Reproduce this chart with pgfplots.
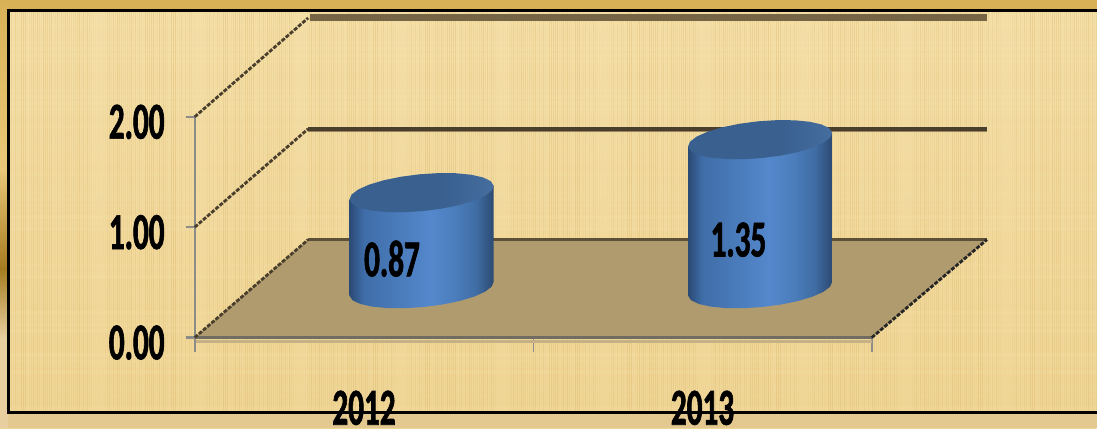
\documentclass[border=0pt]{standalone}
\usepackage{fontspec}
\setmainfont{Carlito}[FakeStretch=0.6,BoldFeatures={FakeBold=1.2}]
\usepackage{pgfplots}
\usepackage{pgfplotstable}
\pgfplotsset{compat=1.18}
\definecolor{wood}{HTML}{F0D595}
\definecolor{woodd}{HTML}{D9B467}
\definecolor{woodl}{HTML}{F7E6B4}
\definecolor{gridd}{HTML}{4A3F2C}
\definecolor{gridb}{HTML}{766545}
\definecolor{floorc}{HTML}{B09B6E}
\definecolor{axg}{HTML}{8C8C88}
\definecolor{c0}{HTML}{2B4A75}
\definecolor{c1}{HTML}{3F6DA8}
\definecolor{c2}{HTML}{5488CC}
\definecolor{c3}{HTML}{4B7DBB}
\definecolor{c4}{HTML}{3F6CA3}
\definecolor{c5}{HTML}{2C4A72}
\pgfdeclarehorizontalshading{cyl}{100bp}{
  color(0bp)=(c0); color(25bp)=(c0); color(30bp)=(c1); color(53bp)=(c2); color(62bp)=(c3); color(69bp)=(c4); color(75bp)=(c5); color(100bp)=(c5)}
\definecolor{t0}{HTML}{39608F}
\definecolor{t1}{HTML}{456D9E}
\pgfdeclarehorizontalshading{captop}{100bp}{
  color(0bp)=(t0); color(57bp)=(t0); color(75bp)=(t1); color(100bp)=(t1)}
\newcommand{\lab}{\fontsize{52}{52}\selectfont\bfseries}
% outline of a cylinder's end, as offsets from its centre
\pgfplotstableread{
dx dy
0.2129 0.0629
0.2043 0.1039
0.1818 0.1378
0.1468 0.1623
0.1020 0.1758
0.0501 0.1772
-0.0052 0.1666
-0.0601 0.1446
-0.1110 0.1128
-0.1542 0.0733
-0.1870 0.0288
-0.2069 -0.0177
-0.2129 -0.0629
-0.2043 -0.1039
-0.1818 -0.1378
-0.1468 -0.1623
-0.1020 -0.1758
-0.0501 -0.1772
0.0052 -0.1666
0.0601 -0.1446
0.1110 -0.1128
0.1542 -0.0733
0.1870 -0.0288
0.2069 0.0177
}\capoutline
\begin{document}
\begin{tikzpicture}[x=1pt,y=1pt]
% frame and textured ground
\fill[top color=woodl!60!wood,bottom color=wood] (0,0) rectangle (1098,429);
\fill[color={rgb,255:red,216;green,177;blue,87}] (0,419) rectangle (1098,429);
\fill[color={rgb,255:red,227;green,201;blue,143}] (0,0) rectangle (1098,16);
\shade[top color={rgb,255:red,216;green,177;blue,87},bottom color={rgb,255:red,234;green,200;blue,120}] (0,260) rectangle (8,429);
\shade[top color={rgb,255:red,234;green,200;blue,120},bottom color={rgb,255:red,166;green,124;blue,32}] (0,160) rectangle (8,260);
\shade[top color={rgb,255:red,166;green,124;blue,32},bottom color={rgb,255:red,232;green,207;blue,160}] (0,90) rectangle (8,160);
\fill[color={rgb,255:red,232;green,207;blue,160}] (0,0) rectangle (8,90);
\begin{scope}
\clip (9,16) rectangle (1098,419);
\foreach \i in {2,4,...,1098}{
  \pgfmathsetmacro{\op}{0.04+0.36*mod(mod(\i,101)*mod(\i,101),97)/97}
  \draw[woodd,opacity=\op,line width=1pt] (\i,16)--(\i,419);
}
\foreach \j in {20,26,...,419}{
  \pgfmathsetmacro{\op}{0.20*mod(mod(\j,89)*mod(\j,89),83)/83}
  \draw[woodl,opacity=\op,line width=4pt] (9,\j)--(1098,\j);
}
\end{scope}
\draw[black,line width=3pt] (1098,418.5)--(9,418.5)--(9,15.5)--(1098,15.5);
\begin{axis}[
  at={(195pt,91pt)},anchor=south west,
  scale only axis,width=678pt,height=221pt,
  xmin=-0.5,xmax=1.5,ymin=0,ymax=2,
  clip=false,
  axis lines=left,
  axis line style={axg,line width=1.6pt,-},
  x axis line style={draw=none},
  ytick={0,1,2},
  xtick={0,1},xticklabels={2012,2013},
  tick align=outside,
  major tick length=9pt,
  ytick style={axg,line width=2.2pt},
  xtick style={draw=none},
  extra x ticks={-0.5,0.5,1.5},
  extra x tick labels={},
  extra x tick style={major tick length=14pt,xtick style={draw=axg,line width=1.5pt},tick style={draw=axg,line width=1.5pt}},
  yticklabel style={font=\lab,inner sep=0pt,yshift=-5pt,xshift=-21pt},
  xticklabel style={font=\lab,inner sep=0pt,yshift=-44pt},
  /pgf/number format/.cd,fixed,fixed zerofill,precision=2,assume math mode=true,
]
% floor
\addplot[draw=none,fill=floorc,forget plot] coordinates {(-0.5,0)(1.5,0)(1.84,0.887)(-0.165,0.887)} -- cycle;
% soft edge under the front of the floor
\addplot[draw={rgb,255:red,196;green,178;blue,134},line width=3pt,forget plot] coordinates {(-0.5,-0.04)(1.5,-0.04)};
\addplot[draw={rgb,255:red,112;green,108;blue,98},line width=3pt,forget plot] coordinates {(-0.5,0)(1.5,0)};
\addplot[draw=axg,line width=1.6pt,forget plot] coordinates {(-0.5,0)(-0.5,-0.135)};
% back gridlines
\addplot[draw=gridb,line width=7pt,forget plot] coordinates {(-0.16,2.896)(1.84,2.896)};
\addplot[draw={rgb,255:red,150;green,132;blue,95},line width=3pt,forget plot] coordinates {(-0.165,1.875)(1.84,1.875)};
\addplot[draw=gridd,line width=3.5pt,forget plot] coordinates {(-0.165,1.891)(1.84,1.891)};
\addplot[draw={rgb,255:red,92;green,80;blue,56},line width=3.5pt,forget plot] coordinates {(-0.165,0.887)(1.84,0.887)};
% depth edges
\addplot[draw=gridd,line width=2.8pt,dash pattern=on 4pt off 1.5pt,forget plot] coordinates {(-0.5,2)(-0.165,2.896)};
\addplot[draw=gridd,line width=2.8pt,dash pattern=on 4pt off 1.5pt,forget plot] coordinates {(-0.5,1)(-0.165,1.891)};
\addplot[draw=gridd,line width=2.8pt,dash pattern=on 4pt off 1.5pt,forget plot] coordinates {(-0.5,0)(-0.165,0.887)};
\addplot[draw=black!85,line width=2.8pt,dash pattern=on 4pt off 1.5pt,forget plot] coordinates {(1.5,0)(1.84,0.887)};
% cylinder 2012, value 0.87
\addplot[draw=none,shading=cyl,forget plot] table[x expr=\thisrow{dx}+0.17,y expr=\thisrow{dy}+0.443] {\capoutline} -- cycle;
\addplot[draw=none,shading=cyl,forget plot] coordinates {(-0.0429,0.3801)(0.3829,0.5059)(0.3829,1.3759)(-0.0429,1.2501)} -- cycle;
\addplot[draw=none,shading=captop,forget plot] table[x expr=\thisrow{dx}+0.17,y expr=\thisrow{dy}+0.87+0.443] {\capoutline} -- cycle;
% cylinder 2013, value 1.35
\addplot[draw=none,shading=cyl,forget plot] table[x expr=\thisrow{dx}+1.17,y expr=\thisrow{dy}+0.443] {\capoutline} -- cycle;
\addplot[draw=none,shading=cyl,forget plot] coordinates {(0.9571,0.3801)(1.3829,0.5059)(1.3829,1.8559)(0.9571,1.7301)} -- cycle;
\addplot[draw=none,shading=captop,forget plot] table[x expr=\thisrow{dx}+1.17,y expr=\thisrow{dy}+1.35+0.443] {\capoutline} -- cycle;
\node[font=\lab,inner sep=0pt] at (axis cs:0.0826,0.715) {0.87};
\node[font=\lab,inner sep=0pt] at (axis cs:1.106,0.887) {1.35};
\end{axis}
\end{tikzpicture}
\end{document}
